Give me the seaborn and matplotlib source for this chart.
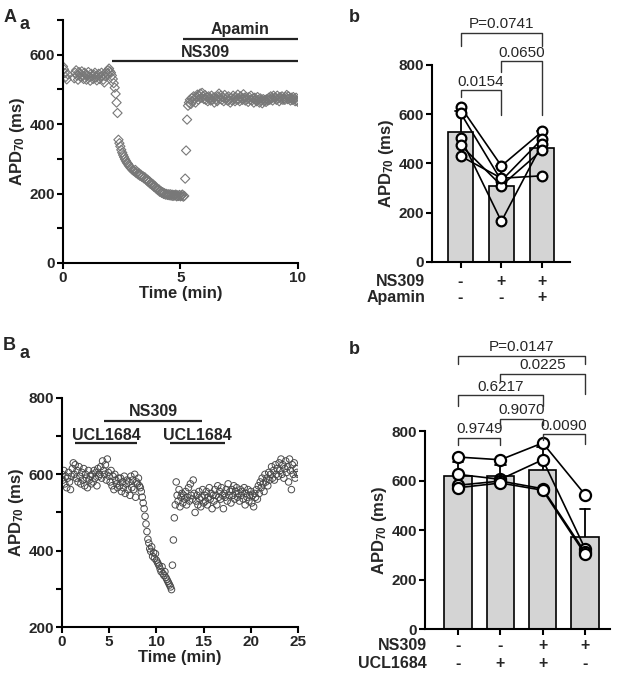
import numpy as np
import pandas as pd
import matplotlib
matplotlib.use("Agg")
import matplotlib.pyplot as plt
import seaborn as sns

sns.set_style("ticks")
plt.rcParams['font.family'] = ['Liberation Sans', 'DejaVu Sans']
plt.rcParams['font.weight'] = 'bold'
plt.rcParams['axes.labelweight'] = 'bold'
plt.rcParams['mathtext.fontset'] = 'custom'
plt.rcParams['mathtext.rm'] = 'Liberation Sans:bold'
plt.rcParams['mathtext.default'] = 'rm'

nan = np.nan

# ---- A a: APD70 time course, one sample every 0.04 min
aa_dt = 0.04
aa_baseline = [566, 558, 547, 536, 529, 544, nan, nan, nan, nan, nan, nan,
               532, 548, 555, 540, 528, 550, 545, 535, 552, 538, 530, 548, 542,
               528, 540, 550, 535, 525, 545, 538, 530, 542, 548, 534, 526, 540,
               545, 530, 536, 548, 540, 528, 520, 538, 550, 545, 555, 560, 552]
aa_ns309 = [548, 540, 530, 518, 505, 487, 462, 432,
            355, 345, 336, 326, 318, 311, 305, 299, 294, 289,
            286, 281, 278, 274, 272, 268, 266,
            264, 268, 259, 262, 255, 258, 251, 254, 248, 250, 244, 247,
            242, 238, 240, 233, 235, 228, 230, 224, 226, 219, 221, 215,
            213, 210, 212, 205, 207, 202, 204, 199, 201, 197, 199, 196, 198,
            195, 198, 194, 197, 193, 196, 194, 197, 192, 195, 193, 196, 192,
            194, 197, 191, 193]
aa_apamin = [243, 324, 413, 453, 462,
             470, 458, 475, 466, 480, 472, 462, 478, 485, 470, 482,
             488, 476, 490, 480, 472, 484, 470, 478, 466, 480,
             474, 468, 482, 470, 476, 462, 478, 472, 466, 480,
             488, 474, 482, 470, 478, 466, 484, 472, 476, 468,
             480, 470, 462, 476, 468, 482, 474, 466, 478, 470,
             485, 472, 466, 480, 474, 470, 486, 476, 468, 478,
             472, 464, 478, 470, 482, 468, 474, 462, 476, 470,
             466, 478, 470, 462, 474, 468, 460, 472, 466, 470,
             464, 472, 468, 476, 470, 480, 474, 468, 482, 476,
             476, 470, 482, 474, 466, 478, 472, 480, 470, 474,
             470, 478, 484, 472, 480, 474, 468, 476, 470, 478,
             472, 466, 476, 468, 464]

# ---- A b: paired APD70 per heart (control, NS309, NS309 + apamin)
ab_groups = [0, 1, 2]
ab_control = [630, 605, 505, 475, 430]
ab_ns309 = [390, 330, 165, 310, 340]
ab_apamin = [530, 500, 480, 455, 350]
ab_ns309_row = ['-', '+', '+']
ab_apamin_row = ['-', '-', '+']

# ---- B a: APD70 time course, one sample every 0.1 min
ba_dt = 0.1
ba_baseline = [600, 585, 610, 575, 595, 565, 590, 605, 580, 560, 595,
               615, 630, 600, 625, 590, 610, 580, 620, 595, 575,
               605, 585, 615, 570, 600, 590, 565, 610, 585, 595,
               575, 600, 580, 610, 590, 605, 570, 615, 595, 600,
               620, 590, 635, 610, 600, 625, 585, 640, 605, 595,
               580, 610, 570, 595, 560, 600, 585, 575, 565, 590,
               570, 590, 555, 580, 565, 595, 550, 575, 585, 560,
               580, 545, 595, 565, 585, 560, 600, 540, 580, 575, 590, 570]
ba_ns309 = [565, 555, 540, 525, 510, 490, 470, 450, 430, 420,
            405, 398, 410, 385, 395, 380, 392, 375, 370, 365,
            360, 352, 345, 358, 340, 335, 345, 330, 325, 320,
            315, 310, 305, 298]
ba_washout = [362, 428, 486, 520,
              580, 545, 530, 560, 515, 540, 550, 525, 545, 535,
              555, 520, 540, 565, 530, 575, 545, 535, 585, 550,
              500, 530, 545, 520, 555, 535, 515, 540, 560, 525,
              545, 530, 555, 520, 540, 565, 535, 550, 510, 545,
              530, 560, 545, 520, 570, 540, 555, 535, 565, 545,
              510, 550, 540, 560, 530, 575, 545, 555, 525, 560,
              545, 570, 535, 555, 565, 540, 550, 530, 560, 545,
              555, 535, 565, 520, 550, 540, 560, 530, 545, 555,
              525, 545, 515, 550, 540, 560, 535, 570, 550, 580,
              565, 590, 575, 555, 600, 580, 590, 570, 605, 585,
              600, 620, 590, 610, 585, 625, 600, 615, 595, 630,
              610, 640, 600, 625, 590, 615, 635, 605, 620, 580,
              640, 610, 560, 625, 600, 630, 590, 615, 605, 600]

# ---- B b: paired APD70 (control, UCL1684, NS309 + UCL1684, NS309)
bb_groups = [0, 1, 2, 3]
bb_control = [695, 625, 581, 571]
bb_ucl = [684, 605, 598, 590]
bb_ns309_ucl = [752, 684, 567, 561]
bb_ns309 = [543, 325, 310, 302]
bb_ns309_row = ['-', '-', '+', '+']
bb_ucl_row = ['-', '+', '+', '-']

TICK = 11
LABEL = 12


def style_axes(ax):
    sns.despine(ax=ax)
    for side in ['left', 'bottom']:
        ax.spines[side].set_linewidth(1.5)
        ax.spines[side].set_color('black')
    ax.tick_params(which='both', direction='out', length=4, width=1.5,
                   labelsize=TICK, pad=1.5, color='black')


def drug_bar(ax, x0, x1, y, label, ty):
    ax.plot([x0, x1], [y, y], color='#222222', lw=1.6, solid_capstyle='butt')
    ax.text((x0 + x1) / 2, ty, label, ha='center', va='baseline', fontsize=11.5,
            fontweight='bold')


def paired_panel(ax, groups, series, width, capsize, msize):
    rows = []
    for g, vals in zip(groups, series):
        for s, v in enumerate(vals):
            rows.append({'group': g, 'subject': s, 'apd': v})
    df = pd.DataFrame(rows)
    sns.barplot(data=df, x='group', y='apd', native_scale=True, errorbar='sd',
                capsize=capsize, width=width, color='#d4d4d4', saturation=1,
                edgecolor='black', linewidth=1.2,
                err_kws={'color': 'black', 'linewidth': 1.3, 'zorder': 1}, ax=ax)
    for p in ax.patches:
        p.set_zorder(2)
    sns.lineplot(data=df, x='group', y='apd', units='subject', estimator=None,
                 color='black', lw=1.2, marker='o', ms=msize, mfc='white',
                 mec='black', mew=1.6, zorder=3, legend=False, ax=ax)


def bracket(ax, x1, x2, y, yl1, yl2, label):
    ax.plot([x1, x1, x2, x2], [yl1, y, y, yl2], color='#333333', lw=1.0,
            clip_on=False, zorder=5)
    ax.text((x1 + x2) / 2, y + 6, label, ha='center', va='bottom', fontsize=11,
            fontweight='normal', clip_on=False)


def sign_rows(ax, groups, row1, row2, name1, name2, y1, y2, xname):
    tr = ax.get_xaxis_transform()
    for g, a, b in zip(groups, row1, row2):
        ax.text(g, y1, a, transform=tr, ha='center', va='center', fontsize=11.5)
        ax.text(g, y2, b, transform=tr, ha='center', va='center', fontsize=11.5)
    ax.text(xname, y1, name1, transform=tr, ha='right', va='center', fontsize=11.5)
    ax.text(xname, y2, name2, transform=tr, ha='right', va='center', fontsize=11.5)


fig = plt.figure(figsize=(6.18, 6.75), dpi=100)

# ---------------- A a
ax = fig.add_axes([0.1019, 0.6104, 0.3803, 0.36])
aa = np.array(aa_baseline + aa_ns309 + aa_apamin, dtype=float)
t = np.arange(len(aa)) * aa_dt
sns.scatterplot(x=t, y=aa, marker='D', s=22, facecolor='none', edgecolor='#787878',
                linewidth=0.8, ax=ax)
ax.set_xlim(0, 10)
ax.set_ylim(0, 700)
ax.set_xticks([0, 5, 10])
ax.set_yticks([0, 200, 400, 600])
ax.set_yticks([100, 300, 500, 700], minor=True)
style_axes(ax)
drug_bar(ax, 2.1, 10, 583, 'NS309', 592)
drug_bar(ax, 5.1, 10, 646, 'Apamin', 660)
ax.set_xlabel('Time (min)', fontsize=LABEL, labelpad=1)
ax.set_ylabel(r'APD$_{70}$ (ms)', fontsize=LABEL, labelpad=2)

# ---------------- A b
ax = fig.add_axes([0.699, 0.6119, 0.2233, 0.2919])
paired_panel(ax, ab_groups, [ab_control, ab_ns309, ab_apamin], 0.6, 0.25, 7)
ax.set_xlim(-0.7, 2.68)
ax.set_ylim(0, 800)
ax.set_yticks([0, 200, 400, 600, 800])
ax.set_xticks(ab_groups)
ax.set_xticklabels([])
ax.set_xlabel('')
ax.set_ylabel(r'APD$_{70}$ (ms)', fontsize=LABEL, labelpad=2)
style_axes(ax)
sign_rows(ax, ab_groups, ab_ns309_row, ab_apamin_row, 'NS309', 'Apamin',
          -0.10, -0.178, -0.87)
bracket(ax, 0, 1, 698, 671, 597, '0.0154')
bracket(ax, 1, 2, 814, 773, 597, '0.0650')
bracket(ax, 0, 2, 931, 875, 875, 'P=0.0741')

# ---------------- B a
ax = fig.add_axes([0.1003, 0.0711, 0.3819, 0.3393])
ba = np.array(ba_baseline + ba_ns309 + ba_washout, dtype=float)
t = np.arange(len(ba)) * ba_dt
sns.scatterplot(x=t, y=ba, marker='o', s=22, facecolor='none', edgecolor='#4a4a4a',
                linewidth=0.7, ax=ax)
ax.set_xlim(0, 25)
ax.set_ylim(200, 800)
ax.set_xticks([0, 5, 10, 15, 20, 25])
ax.set_yticks([200, 400, 600, 800])
ax.set_yticks([300, 500, 700], minor=True)
style_axes(ax)
drug_bar(ax, 4.5, 14.8, 739, 'NS309', 753)
drug_bar(ax, 1.4, 7.9, 682, 'UCL1684', 689)
drug_bar(ax, 11.4, 17.3, 682, 'UCL1684', 689)
ax.set_xlabel('Time (min)', fontsize=LABEL, labelpad=1)
ax.set_ylabel(r'APD$_{70}$ (ms)', fontsize=LABEL, labelpad=2)

# ---------------- B b
ax = fig.add_axes([0.6877, 0.0681, 0.2994, 0.2933])
paired_panel(ax, bb_groups, [bb_control, bb_ucl, bb_ns309_ucl, bb_ns309], 0.65, 0.25, 8)
ax.set_xlim(-0.78, 3.59)
ax.set_ylim(0, 800)
ax.set_yticks([0, 200, 400, 600, 800])
ax.set_xticks(bb_groups)
ax.set_xticklabels([])
ax.set_xlabel('')
ax.set_ylabel(r'APD$_{70}$ (ms)', fontsize=LABEL, labelpad=2)
style_axes(ax)
sign_rows(ax, bb_groups, bb_ns309_row, bb_ucl_row, 'NS309', 'UCL1684',
          -0.081, -0.172, -0.73)
bracket(ax, 0, 1, 773, 742, 742, '0.9749')
bracket(ax, 2, 3, 787, 765, 749, '0.0090')
bracket(ax, 1, 2, 850, 823, 823, '0.9070')
bracket(ax, 0, 2, 944, 903, 903, '0.6217')
bracket(ax, 1, 3, 1031, 1004, 950, '0.0225')
bracket(ax, 0, 3, 1105, 1072, 1072, 'P=0.0147')

# panel letters
fig.text(0.005, 0.987, 'A', fontsize=13, fontweight='bold', va='top')
fig.text(0.032, 0.976, 'a', fontsize=13, fontweight='bold', va='top')
fig.text(0.565, 0.987, 'b', fontsize=13, fontweight='bold', va='top')
fig.text(0.005, 0.500, 'B', fontsize=13, fontweight='bold', va='top')
fig.text(0.032, 0.489, 'a', fontsize=13, fontweight='bold', va='top')
fig.text(0.565, 0.495, 'b', fontsize=13, fontweight='bold', va='top')

fig.savefig('out.png', dpi=100)
